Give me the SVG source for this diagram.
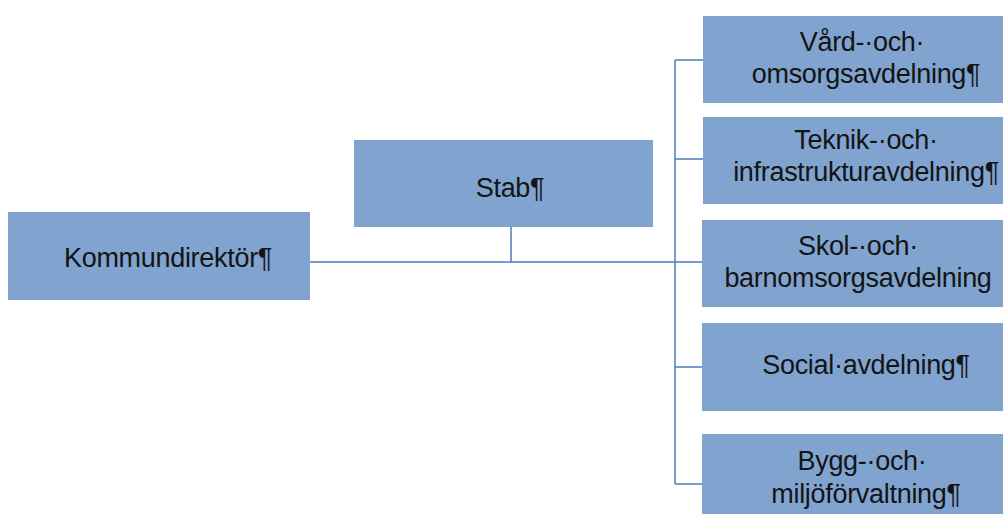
<svg xmlns="http://www.w3.org/2000/svg" width="1003" height="514" viewBox="0 0 1003 514">
<style>
.box{fill:#80A3CF;}
.t{font-family:"Liberation Sans",Arial,sans-serif;font-size:27px;letter-spacing:-0.3px;fill:#141414;text-anchor:middle;}
.c{stroke:#4A7EBB;stroke-width:1.5;fill:none;}
</style>
<rect width="1003" height="514" fill="#ffffff"/>
<g id="connectors">
<path class="c" d="M310 262H675M511 227V262M675 60V484M675 60H703M675 159H703M675 262H703M675 367H703M675 484H703"/>
</g>
<g id="kommundirektor">
<rect class="box" x="8" y="212" width="302" height="88"/>
<text class="t" x="168" y="267">Kommundirektör¶</text>
</g>
<g id="stab">
<rect class="box" x="354" y="140" width="299" height="87"/>
<text class="t" x="510" y="197">Stab¶</text>
</g>
<g id="vard">
<rect class="box" x="703" y="16" width="310" height="87"/>
<text class="t" x="862" y="51">Vård-·och·</text>
<text class="t" x="866" y="83">omsorgsavdelning¶</text>
</g>
<g id="teknik">
<rect class="box" x="703" y="117" width="310" height="87"/>
<text class="t" x="866" y="149">Teknik-·och·</text>
<text class="t" x="866" y="181">infrastrukturavdelning¶</text>
</g>
<g id="skol">
<rect class="box" x="702" y="220" width="311" height="87"/>
<text class="t" x="858" y="255">Skol-·och·</text>
<text class="t" x="858" y="287">barnomsorgsavdelning</text>
</g>
<g id="social">
<rect class="box" x="702" y="323" width="311" height="88"/>
<text class="t" x="866" y="374">Social·avdelning¶</text>
</g>
<g id="bygg">
<rect class="box" x="702" y="434" width="311" height="90"/>
<text class="t" x="862" y="470">Bygg-·och·</text>
<text class="t" x="866" y="503">miljöförvaltning¶</text>
</g>
</svg>
